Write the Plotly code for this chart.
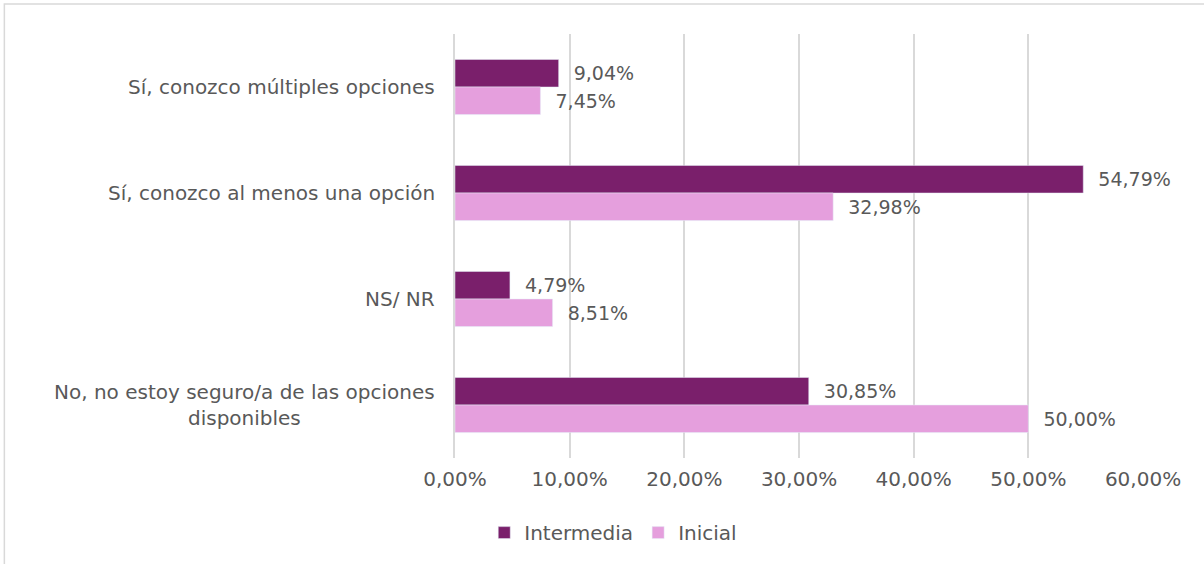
import plotly.graph_objects as go

categories = [
    "Sí, conozco múltiples opciones",
    "Sí, conozco al menos una opción",
    "NS/ NR",
    "No, no estoy seguro/a de las opciones<br>disponibles",
]
intermedia = [9.04, 54.79, 4.79, 30.85]
inicial = [7.45, 32.98, 8.51, 50.00]
x_ticks = [0, 10, 20, 30, 40, 50, 60]
x_tick_text = [f"{v:.2f}%".replace(".", ",") for v in x_ticks]

font_family = "'DejaVu Sans', sans-serif"
grey = "#595959"

fig = go.Figure()
fig.add_trace(go.Bar(
    y=categories, x=intermedia, name="Intermedia", orientation="h",
    marker=dict(color="#7A1F6B"),
    texttemplate="\u00a0\u00a0%{x:.2f}%", textposition="outside",
    textfont=dict(size=19, color=grey, family=font_family),
    cliponaxis=False,
))
fig.add_trace(go.Bar(
    y=categories, x=inicial, name="Inicial", orientation="h",
    marker=dict(color="#E59FDD"),
    texttemplate="\u00a0\u00a0%{x:.2f}%", textposition="outside",
    textfont=dict(size=19, color=grey, family=font_family),
    cliponaxis=False,
))

# category labels as centred annotations (multi-line centred)
for c in categories:
    fig.add_annotation(
        x=-0.026, xref="paper", y=c, yref="y", text=c, showarrow=False,
        xanchor="right", align="center",
        font=dict(size=20, color=grey, family=font_family),
    )

# outer frame
fig.add_shape(type="rect", xref="paper", yref="paper",
              x0=-0.655, x1=2, y0=-1, y1=1.0708,
              line=dict(color="#D9D9D9", width=1.5), layer="below")

fig.update_layout(
    width=1204, height=564,
    margin=dict(l=455, r=61, t=34, b=106),
    paper_bgcolor="white", plot_bgcolor="white",
    separators=",.",
    barmode="group", bargap=0.48, bargroupgap=0,
    font=dict(family=font_family, color=grey, size=20),
    xaxis=dict(
        range=[0, 60], tickvals=x_ticks, ticktext=x_tick_text,
        showgrid=True, gridcolor="#D9D9D9", gridwidth=1.5,
        zeroline=False, showline=False,
        tickfont=dict(size=20, color=grey), ticklabelstandoff=7,
    ),
    yaxis=dict(
        autorange="reversed", showticklabels=False, showgrid=False,
        showline=True, linecolor="#D9D9D9", linewidth=1.5, zeroline=False,
    ),
    legend=dict(
        orientation="h", x=0.23, xanchor="center", y=-0.13, yanchor="top",
        font=dict(size=20, color=grey), itemwidth=30,
    ),
)

fig.write_html("out.html", config={"displayModeBar": False},
               post_script="document.body.style.margin='0';")
